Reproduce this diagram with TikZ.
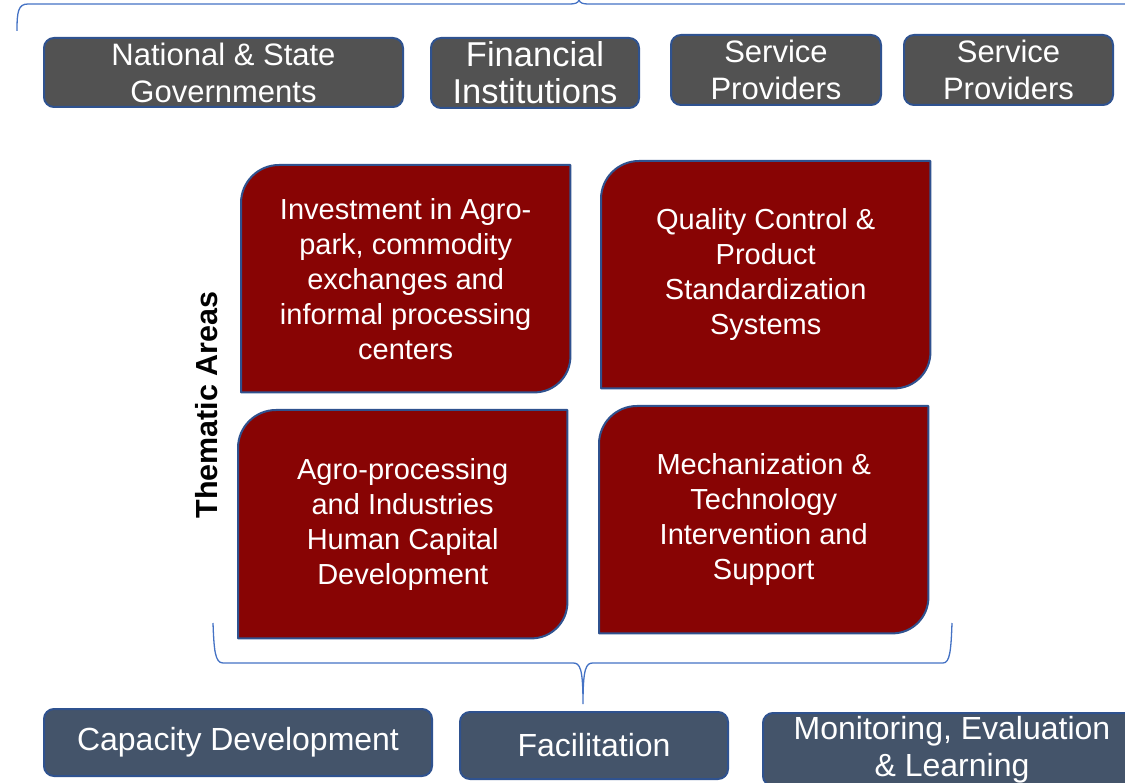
\documentclass[tikz,border=0pt]{standalone}
\usepackage{fontspec}
\setmainfont{Liberation Sans}
\usetikzlibrary{backgrounds}
\definecolor{edgeblue}{HTML}{2F528F}
\definecolor{bracecol}{HTML}{4472C4}
\definecolor{actorgray}{HTML}{525252}
\definecolor{themered}{HTML}{880404}
\definecolor{slate}{HTML}{44546A}
\begin{document}
\begin{tikzpicture}[x=1pt,y=-1pt,
  actor/.style={draw=edgeblue, line width=2pt, fill=actorgray, rounded corners=10pt,
    text=white, align=center, anchor=north west, inner sep=0pt,
    font=\fontsize{31}{37}\selectfont},
  area/.style={draw=edgeblue, line width=2pt, fill=slate, rounded corners=10pt,
    text=white, align=center, anchor=north west, inner sep=0pt,
    font=\fontsize{32}{37}\selectfont},
  themebox/.style={inner sep=0pt, anchor=north west, text=white, align=center,
    font=\fontsize{29}{35}\selectfont},
  themeshape/.style={draw=edgeblue, line width=2pt, fill=themered, line join=round},
  brace/.style={draw=bracecol, line width=1.3pt},
]
\useasboundingbox (0,0) rectangle (1125,783);

% stakeholders along the top
\node[actor, minimum width=359pt, minimum height=69pt] (gov) at (43,37) {National \& State\\Governments};
\node[actor, minimum width=208pt, minimum height=70pt, font=\fontsize{34.5}{37}\selectfont] (fin) at (430,37) {Financial\\Institutions};
\node[actor, minimum width=210pt, minimum height=70pt] (sp1) at (670,34) {Service\\Providers};
\node[actor, minimum width=209pt, minimum height=70pt] (sp2) at (903,34) {Service\\Providers};

% brace grouping the stakeholders
\coordinate (tb-l) at (17,31);
\coordinate (tb-tip) at (579,0);
\coordinate (tb-r) at (1140,4);
\draw[brace] (tb-l) .. controls (17,12) and (18,4) .. (28,4) -- (570,4)
  .. controls (575,4) and (578,3) .. (tb-tip)
  .. controls (580,3) and (583,4) .. (588,4) -- (tb-r);

% thematic areas
\node[themebox, minimum width=329pt, minimum height=227pt] (ta1) at (241,165)
  {Investment in Agro-\\park, commodity\\exchanges and\\informal processing\\centers};
\node[themebox, minimum width=329pt, minimum height=227pt] (ta2) at (601,161)
  {Quality Control \&\\Product\\Standardization\\Systems};
\node[themebox, minimum width=329pt, minimum height=228pt] (ta3) at (238,410)
  {Agro-processing\\and Industries\\Human Capital\\Development};
\node[themebox, minimum width=329pt, minimum height=227pt] (ta4) at (599,406)
  {Mechanization \&\\Technology\\Intervention and\\Support};

\begin{scope}[on background layer]
  \foreach \b in {ta1,ta2,ta3,ta4}{
    \draw[themeshape] (\b.south west) -- ([yshift=-38pt]\b.north west)
      arc[start angle=180, end angle=90, radius=38pt] -- (\b.north east)
      -- ([yshift=36pt]\b.south east)
      arc[start angle=0, end angle=-90, radius=36pt] -- cycle;
  }
\end{scope}

\node[rotate=90, font=\fontsize{30.5}{36}\selectfont\bfseries] (lbl) at (207,405) {Thematic Areas};

% brace gathering the thematic areas
\coordinate (bb-l) at (213,623);
\coordinate (bb-tip) at (583,704);
\coordinate (bb-r) at (952,623);
\draw[brace] (bb-l) .. controls (214,650) and (215,663) .. (223,663) -- (573,663)
  .. controls (580,663) and (583,668) .. (bb-tip)
  .. controls (583,668) and (586,663) .. (593,663) -- (943,663)
  .. controls (950,663) and (951,650) .. (bb-r);

% cross-cutting activities along the bottom
\node[area, minimum width=388pt, minimum height=67pt] (cap) at (43,708) {Capacity Development};
\node[area, minimum width=268pt, minimum height=67pt] (fac) at (459,711) {Facilitation};
\node[area, minimum width=378pt, minimum height=73pt] (mel) at (762,712) {Monitoring, Evaluation\\\& Learning};
\end{tikzpicture}
\end{document}
